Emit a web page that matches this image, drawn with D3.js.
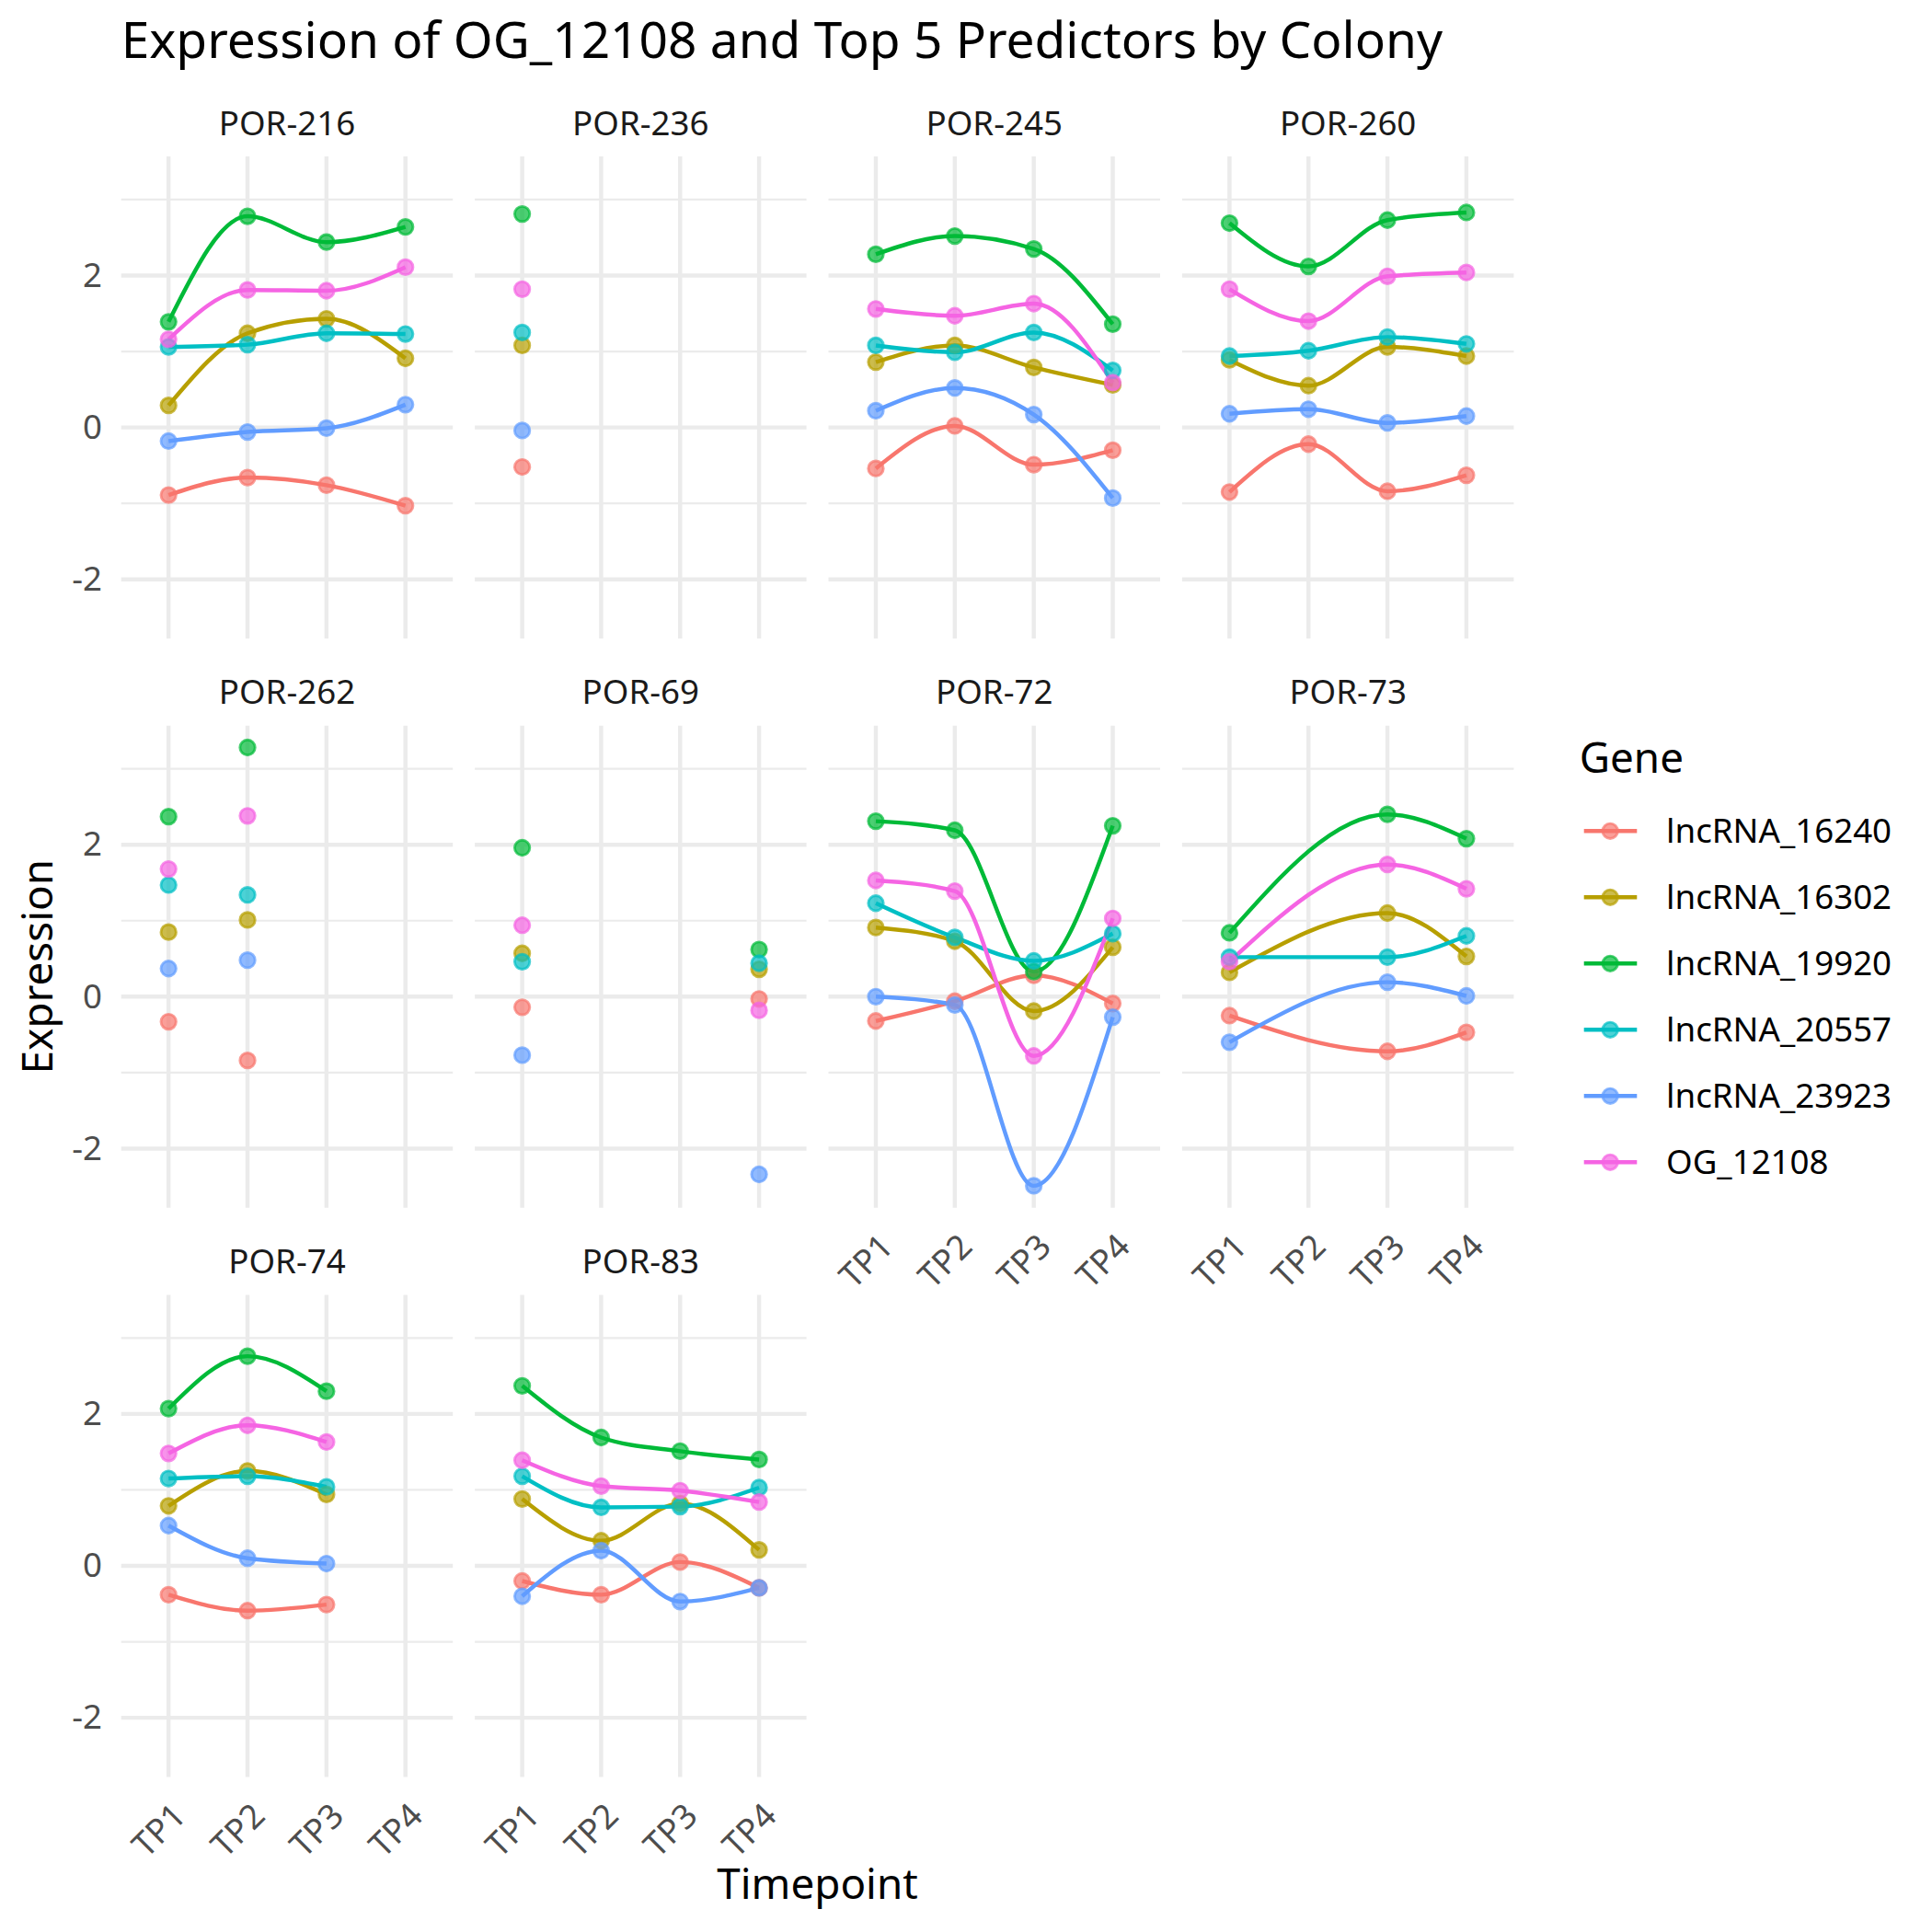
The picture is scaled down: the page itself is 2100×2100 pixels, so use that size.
<!DOCTYPE html>
<html><head><meta charset="utf-8">
<script src="https://cdn.jsdelivr.net/npm/d3@7"></script>
<style>body{margin:0;background:#fff} svg text{font-family:"Noto Sans","Open Sans",sans-serif}</style>
</head><body><svg id="chart" width="2100" height="2100"></svg>
<script>
const colonies = ["POR-216","POR-236","POR-245","POR-260","POR-262","POR-69","POR-72","POR-73","POR-74","POR-83"];
const timepoints = ["TP1","TP2","TP3","TP4"];
const genes = ["lncRNA_16240","lncRNA_16302","lncRNA_19920","lncRNA_20557","lncRNA_23923","OG_12108"];
const geneColors = ["#F8766D","#B79F00","#00BA38","#00BFC4","#619CFF","#F564E3"];
const yTicks = [-2, 0, 2];
const yMinorTicks = [-1, 1, 3];

// one row per colony (same order as colonies), columns TP1..TP4; null = not sampled
const lncRNA_16240 = [
  [-0.89,-0.66,-0.76,-1.03],
  [-0.52,null,null,null],
  [-0.54,0.02,-0.49,-0.30],
  [-0.85,-0.22,-0.84,-0.63],
  [-0.33,-0.84,null,null],
  [-0.14,null,null,-0.03],
  [-0.32,-0.06,0.28,-0.09],
  [-0.25,null,-0.72,-0.47],
  [-0.38,-0.59,-0.51,null],
  [-0.20,-0.38,0.05,-0.29]];
const lncRNA_16302 = [
  [0.29,1.24,1.43,0.91],
  [1.08,null,null,null],
  [0.86,1.08,0.79,0.56],
  [0.89,0.55,1.06,0.94],
  [0.85,1.01,null,null],
  [0.57,null,null,0.36],
  [0.91,0.73,-0.19,0.65],
  [0.32,null,1.10,0.53],
  [0.79,1.25,0.94,null],
  [0.88,0.33,0.82,0.21]];
const lncRNA_19920 = [
  [1.39,2.78,2.44,2.64],
  [2.81,null,null,null],
  [2.28,2.52,2.35,1.36],
  [2.69,2.12,2.73,2.83],
  [2.37,3.28,null,null],
  [1.96,null,null,0.62],
  [2.31,2.19,0.33,2.25],
  [0.84,null,2.40,2.08],
  [2.07,2.76,2.30,null],
  [2.37,1.69,1.51,1.40]];
const lncRNA_20557 = [
  [1.06,1.09,1.24,1.23],
  [1.25,null,null,null],
  [1.08,0.99,1.25,0.75],
  [0.94,1.01,1.19,1.10],
  [1.47,1.34,null,null],
  [0.46,null,null,0.44],
  [1.23,0.78,0.47,0.83],
  [0.52,null,0.52,0.80],
  [1.15,1.18,1.04,null],
  [1.18,0.77,0.78,1.03]];
const lncRNA_23923 = [
  [-0.18,-0.06,-0.01,0.30],
  [-0.04,null,null,null],
  [0.22,0.52,0.17,-0.93],
  [0.18,0.24,0.06,0.15],
  [0.37,0.48,null,null],
  [-0.77,null,null,-2.34],
  [0.00,-0.11,-2.49,-0.27],
  [-0.60,null,0.19,0.01],
  [0.53,0.10,0.03,null],
  [-0.40,0.20,-0.47,-0.29]];
const OG_12108 = [
  [1.16,1.81,1.80,2.11],
  [1.82,null,null,null],
  [1.56,1.47,1.63,0.59],
  [1.82,1.40,1.99,2.04],
  [1.68,2.38,null,null],
  [0.94,null,null,-0.18],
  [1.53,1.39,-0.78,1.03],
  [0.46,null,1.74,1.42],
  [1.48,1.85,1.63,null],
  [1.39,1.05,0.99,0.84]];

const seriesValues = [lncRNA_16240, lncRNA_16302, lncRNA_19920, lncRNA_20557, lncRNA_23923, OG_12108];

// ---------- layout ----------
const svg = d3.select("#chart");
const W = 2100;
const ncol = 4;
const panelLeft0 = 131.7, panelW = 360.5, panelStepX = 384.4;
const panelTop0 = 170, panelH = 524, panelStepY = 618.7;
const fsSmall = 36.7, fsMid = 45.8, fsTitle = 55;

svg.append("rect").attr("width", W).attr("height", W).attr("fill", "#fff");

const x = d3.scalePoint().domain(timepoints).range([0, panelW]).padding(0.6);
const allVals = seriesValues.flat(2).filter(v => v !== null);
const yMin = d3.min(allVals), yMax = d3.max(allVals), ySpan = yMax - yMin;
const y = d3.scaleLinear().domain([yMin - 0.05 * ySpan, yMax + 0.05 * ySpan]).range([panelH, 0]);
const color = d3.scaleOrdinal().domain(genes).range(geneColors);

const line = d3.line().x(d => x(d.tp)).y(d => y(d.v)).curve(d3.curveMonotoneX);

// title
svg.append("text").attr("x", 131.7).attr("y", 63).attr("font-size", fsTitle).attr("fill", "#000")
  .text("Expression of OG_12108 and Top 5 Predictors by Colony");

const nRows = Math.ceil(colonies.length / ncol);
colonies.forEach((col, ci) => {
  const r = Math.floor(ci / ncol), c = ci % ncol;
  const px = panelLeft0 + c * panelStepX, py = panelTop0 + r * panelStepY;
  const g = svg.append("g").attr("transform", `translate(${px},${py})`);

  // grid
  g.selectAll(".ymin").data(yMinorTicks.filter(t => t >= y.domain()[0] && t <= y.domain()[1])).join("line")
    .attr("x1", 0).attr("x2", panelW).attr("y1", d => y(d)).attr("y2", d => y(d))
    .attr("stroke", "#EBEBEB").attr("stroke-width", 2.2);
  g.selectAll(".ymaj").data(yTicks).join("line")
    .attr("x1", 0).attr("x2", panelW).attr("y1", d => y(d)).attr("y2", d => y(d))
    .attr("stroke", "#EBEBEB").attr("stroke-width", 4.45);
  g.selectAll(".xmaj").data(timepoints).join("line")
    .attr("x1", d => x(d)).attr("x2", d => x(d)).attr("y1", 0).attr("y2", panelH)
    .attr("stroke", "#EBEBEB").attr("stroke-width", 4.45);

  // strip
  g.append("text").attr("x", panelW / 2).attr("y", -23.5).attr("text-anchor", "middle")
    .attr("font-size", fsSmall).attr("fill", "#1A1A1A").text(col);

  // lines
  genes.forEach((gene, gi) => {
    const pts = timepoints.map((tp, ti) => ({tp, v: seriesValues[gi][ci][ti]})).filter(d => d.v !== null);
    if (pts.length >= 3) {
      g.append("path").attr("d", line(pts)).attr("fill", "none")
        .attr("stroke", color(gene)).attr("stroke-width", 4.45).attr("stroke-linecap", "butt");
    }
  });
  // points
  genes.forEach((gene, gi) => {
    const pts = timepoints.map((tp, ti) => ({tp, v: seriesValues[gi][ci][ti]})).filter(d => d.v !== null);
    g.selectAll(null).data(pts).join("circle")
      .attr("cx", d => x(d.tp)).attr("cy", d => y(d.v)).attr("r", 8.2)
      .attr("fill", color(gene)).attr("fill-opacity", 0.7)
      .attr("stroke", color(gene)).attr("stroke-opacity", 0.7).attr("stroke-width", 2.9);
  });

  // y axis on first column
  if (c === 0) {
    const ya = g.append("g").call(d3.axisLeft(y).tickValues(yTicks).tickSize(0).tickPadding(20.7).tickFormat(d => String(d)));
    ya.select(".domain").remove();
    ya.selectAll("text").attr("font-size", fsSmall).attr("fill", "#4D4D4D").attr("font-family", null);
  }
  // x axis on bottom-most panel of each column
  const belowIdx = ci + ncol;
  if (belowIdx >= colonies.length) {
    const xa = g.append("g").attr("transform", `translate(0,${panelH})`)
      .call(d3.axisBottom(x).tickSize(0).tickPadding(0));
    xa.select(".domain").remove();
    xa.selectAll("text").attr("font-size", fsSmall).attr("fill", "#4D4D4D").attr("font-family", null)
      .attr("text-anchor", "end").attr("y", 0).attr("dy", "0.75em")
      .attr("transform", "translate(1,25) rotate(-45)");
  }
});

// axis titles
const plotMidX = panelLeft0 + ((ncol - 1) * panelStepX + panelW) / 2;
svg.append("text").attr("x", plotMidX).attr("y", 2064).attr("text-anchor", "middle")
  .attr("font-size", fsMid).attr("fill", "#000").text("Timepoint");
const plotMidY = panelTop0 + ((nRows - 1) * panelStepY + panelH) / 2;
svg.append("text").attr("transform", `translate(57,${plotMidY}) rotate(-90)`).attr("text-anchor", "middle")
  .attr("font-size", fsMid).attr("fill", "#000").text("Expression");

// legend
const lg = svg.append("g").attr("transform", "translate(1716.7,0)");
lg.append("text").attr("x", 0).attr("y", 840).attr("font-size", fsMid).attr("fill", "#000").text("Gene");
genes.forEach((gene, gi) => {
  const cy = 903.3 + gi * 72;
  lg.append("line").attr("x1", 5).attr("x2", 62.6).attr("y1", cy).attr("y2", cy)
    .attr("stroke", color(gene)).attr("stroke-width", 4.45);
  lg.append("circle").attr("cx", 33.5).attr("cy", cy).attr("r", 8.2)
    .attr("fill", color(gene)).attr("fill-opacity", 0.7)
    .attr("stroke", color(gene)).attr("stroke-opacity", 0.7).attr("stroke-width", 2.9);
  lg.append("text").attr("x", 94.3).attr("y", cy).attr("dy", "0.35em").attr("font-size", fsSmall)
    .attr("fill", "#000").text(gene);
});
</script></body></html>
